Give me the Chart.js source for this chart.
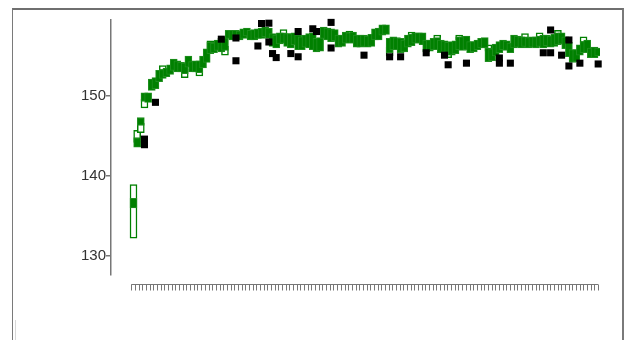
<!DOCTYPE html>
<html>
<head>
<meta charset="utf-8">
<script src="https://cdn.jsdelivr.net/npm/chart.js@4"></script>
<style>
  html, body { margin: 0; padding: 0; background: #fff; }
  #wrap { position: relative; width: 628px; height: 340px; overflow: hidden; }
  #frame {
    position: absolute; left: 12px; top: 8px; width: 612px; height: 360px;
    box-sizing: border-box;
    border-top: 2px solid #6f6f6f; border-left: 1.5px solid #7a7a7a; border-right: 2px solid #7a7a7a;
  }
  #sliver { position: absolute; left: 15px; top: 320px; width: 1px; height: 20px; background: #d8d8d8; }
  canvas { position: absolute; left: 0; top: 0; }
</style>
</head>
<body>
<div id="wrap">
  <div id="frame"></div>
  <div id="sliver"></div>
  <canvas id="chart" width="628" height="340"></canvas>
</div>
<script>
// Solid range per run (low / high)
const filledLow = [
  136.0,143.6,146.3,149.3,149.2,150.7,150.9,151.8,152.2,152.4,
  152.7,153.2,153.0,153.0,152.8,153.6,153.0,153.0,152.9,153.5,
  154.2,155.3,155.4,155.7,155.5,155.7,157.2,157.0,157.2,157.0,
  157.2,157.5,157.0,157.0,157.2,157.2,157.4,157.2,156.2,156.0,
  156.5,156.6,156.2,156.0,156.4,155.8,155.8,156.1,156.0,155.8,
  155.5,155.6,157.2,157.0,156.8,156.9,156.1,156.2,156.6,156.6,
  156.6,156.1,156.1,156.2,156.1,156.2,157.0,157.0,157.6,157.7,
  155.4,155.8,155.8,155.4,155.5,156.1,156.3,156.6,156.6,156.4,
  155.5,155.6,155.8,155.8,155.4,155.5,155.1,155.1,155.3,155.8,
  155.7,155.8,155.4,155.5,155.8,156.0,156.0,154.3,154.4,155.0,
  155.4,155.8,155.7,155.4,156.0,156.1,156.0,156.2,156.0,156.1,
  156.0,156.2,156.0,156.3,156.1,156.2,156.4,156.5,155.9,154.9,
  154.2,154.3,155.1,155.4,155.4,154.8,154.8,155.0
];
const filledHigh = [
  137.2,144.8,147.3,150.4,150.4,152.1,152.3,153.2,153.3,153.5,
  153.9,154.6,154.4,154.2,154.1,155.0,154.3,154.4,154.4,155.0,
  155.9,156.7,156.6,157.0,157.2,157.4,158.2,158.2,158.2,158.1,
  158.4,158.5,158.2,158.3,158.4,158.5,158.6,158.5,157.8,157.6,
  157.9,157.9,157.8,157.8,157.9,157.6,157.4,157.6,157.8,157.9,
  157.2,157.3,158.6,158.5,158.4,158.3,157.6,157.6,158.0,157.9,
  158.0,157.6,157.6,157.6,157.5,157.7,158.4,158.5,158.9,158.9,
  157.2,157.4,157.3,157.2,157.0,157.6,157.7,157.9,157.9,157.9,
  157.0,157.0,157.2,157.3,157.0,156.9,156.7,156.8,156.9,157.4,
  157.4,157.5,156.8,156.8,157.0,157.2,157.3,156.0,155.9,156.5,
  156.8,157.0,156.9,156.6,157.6,157.5,157.4,157.4,157.3,157.4,
  157.4,157.5,157.6,157.6,157.5,157.7,157.9,157.9,157.4,156.7,
  155.8,155.8,156.4,156.8,157.0,156.0,156.1,156.0
];

// Open ranges (run index, low, high)
const hollowRun  = [0, 1, 2, 3, 8, 14, 18, 21, 25, 41, 59, 70, 76, 83, 86, 89, 97, 107, 111, 116, 123];
const hollowLow  = [132.2,144.2,145.4,148.5,153.2,152.3,152.5,155.9,155.1,157.6,157.4,155.0,157.3,157.0,154.8,157.0,155.6,157.2,157.3,157.6,156.7];
const hollowHigh = [138.9,145.7,146.6,149.6,153.8,153.4,153.5,156.9,156.2,158.3,158.1,156.1,158.0,157.6,155.8,157.6,156.4,157.8,157.9,158.2,157.4];

// Single readings drawn as black squares
const outlierRun = [3,3,6,24,28,28,34,35,37,37,38,39,43,45,45,49,50,54,54,63,70,73,80,85,86,91,100,100,103,112,114,114,117,119,119,122,127];
const outlierValue = [
  144.6,143.9,149.2,157.1,157.25,154.4,156.25,159.06,159.1,156.75,
  155.3,154.8,155.3,158.06,154.9,158.4,158.06,159.2,156.0,155.1,
  154.9,154.9,155.4,155.1,153.9,154.1,154.75,154.1,154.1,155.4,
  158.25,155.4,155.1,157.0,153.75,154.1,154.0
];

const yTicks = [130, 140, 150];

const runs = filledLow.map((_, i) => i);
const filledData = runs.map(i => ({ x: i, y: [filledLow[i], filledHigh[i]] }));
const hollowData = hollowRun.map((r, k) => ({ x: r, y: [hollowLow[k], hollowHigh[k]] }));
const pointData = outlierRun.map((r, k) => ({ x: r, y: outlierValue[k] }));

// Detached run axis: baseline plus one tick per run
const runAxis = {
  id: 'runAxis',
  afterDraw(chart) {
    const xs = chart.scales.x, area = chart.chartArea, ctx = chart.ctx;
    const y0 = area.bottom + 9.5;
    const start = runs[0] - 0.6, end = runs[runs.length - 1];
    ctx.save();
    ctx.strokeStyle = '#777';
    ctx.lineWidth = 1;
    ctx.beginPath();
    ctx.moveTo(xs.getPixelForValue(start), y0);
    ctx.lineTo(xs.getPixelForValue(end), y0);
    for (let k = 0; k < runs.length; k++) {
      const v = start + k * (end - start) / (runs.length - 1);
      const px = Math.round(xs.getPixelForValue(v)) + 0.5;
      ctx.moveTo(px, y0);
      ctx.lineTo(px, y0 + 6);
    }
    ctx.stroke();
    ctx.restore();
  }
};

new Chart(document.getElementById('chart'), {
  type: 'bar',
  data: {
    datasets: [
      {
        type: 'scatter', data: pointData, order: 0, clip: false,
        pointStyle: 'rect', pointRadius: 5, backgroundColor: '#000', borderWidth: 0
      },
      {
        type: 'bar', data: filledData, order: 1, grouped: false,
        backgroundColor: '#008000', borderColor: '#1f8f1f', borderWidth: 1,
        borderSkipped: false, barThickness: 7
      },
      {
        type: 'bar', data: hollowData, order: 2, grouped: false,
        backgroundColor: '#ffffff', borderColor: '#008000', borderWidth: 1.5,
        borderSkipped: false, barThickness: 7
      }
    ]
  },
  options: {
    responsive: false,
    animation: false,
    layout: { padding: { left: 0, right: 28, top: 20, bottom: 65 } },
    plugins: { legend: { display: false }, tooltip: { enabled: false } },
    scales: {
      x: { type: 'linear', display: false, offset: false, min: -6.15, max: 127.5 },
      y: {
        min: 127.6, max: 159.5,
        afterBuildTicks: s => { s.ticks = yTicks.map(v => ({ value: v })); },
        afterFit: s => { s.width = 111; },
        border: { display: true, color: '#777', width: 1.5 },
        grid: { drawOnChartArea: false, drawTicks: true, tickLength: 5, color: '#777', lineWidth: 1.5 },
        ticks: { color: '#333', padding: 0, font: { family: 'Liberation Sans', size: 15 } }
      }
    }
  },
  plugins: [runAxis]
});
</script>
</body>
</html>
